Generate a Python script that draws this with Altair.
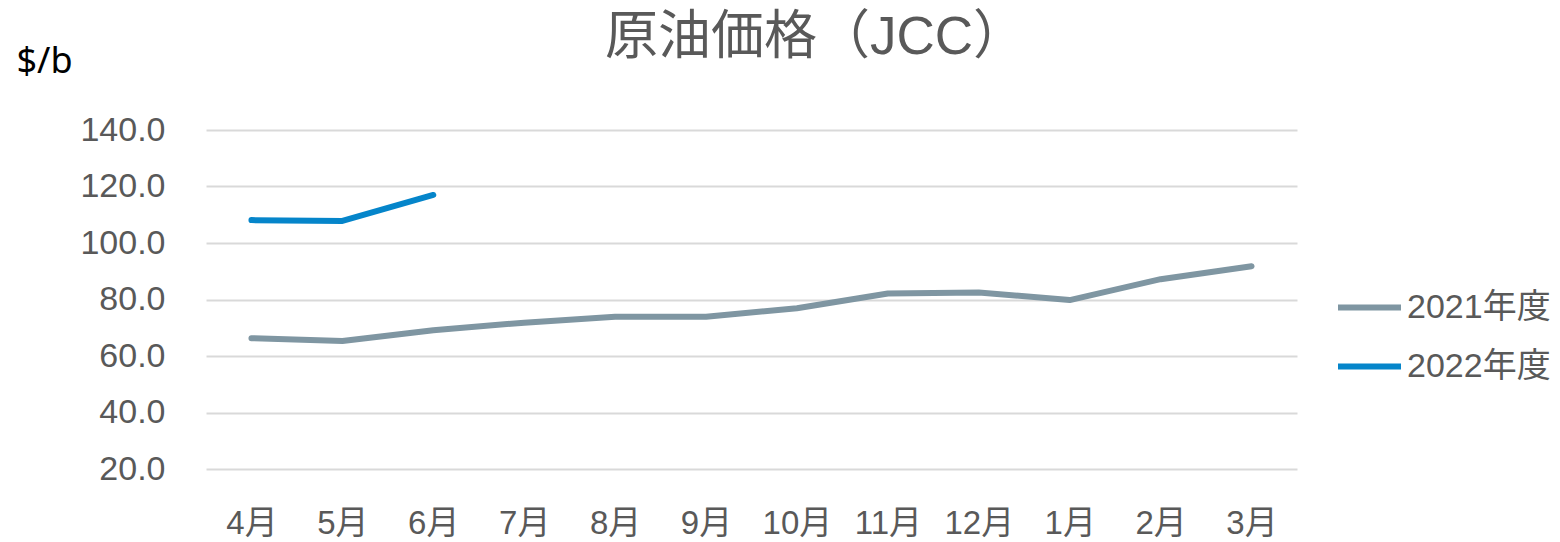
import altair as alt
import pandas as pd

months = ["4月", "5月", "6月", "7月", "8月", "9月", "10月", "11月", "12月", "1月", "2月", "3月"]
fy2021 = [66.3, 65.3, 69.1, 71.8, 73.9, 73.9, 76.9, 82.1, 82.5, 79.8, 87.2, 91.8]
fy2022 = [108.1, 107.8, 117.0]
series = ["2021年度", "2022年度"]
colors = ["#7F96A2", "#0585CA"]
y_ticks = [20, 40, 60, 80, 100, 120, 140]

rows = []
for m, v in zip(months, fy2021):
    rows.append({"month": m, "value": v, "series": series[0]})
for m, v in zip(months, fy2022):
    rows.append({"month": m, "value": v, "series": series[1]})
df = pd.DataFrame(rows)

FONT = "Liberation Sans, Arial, Noto Sans CJK JP"
GRAY = "#595959"

chart = alt.Chart(df).mark_line(strokeWidth=6, strokeCap="round", strokeJoin="round").encode(
    x=alt.X("month:N", sort=months,
            scale=alt.Scale(type="point", padding=0.5),
            axis=alt.Axis(title=None, labelAngle=0, domain=False, ticks=False, grid=False,
                          labelFont=FONT, labelFontSize=33, labelColor=GRAY, labelPadding=38)),
    y=alt.Y("value:Q",
            scale=alt.Scale(domain=[20, 140], nice=False, zero=False),
            axis=alt.Axis(values=y_ticks, format=".1f", domain=False, ticks=False,
                          gridColor="#D9D9D9", gridWidth=2,
                          labelFont=FONT, labelFontSize=34, labelColor=GRAY, labelPadding=41,
                          title="$/b", titleAngle=0, titleAlign="left", titleBaseline="alphabetic",
                          titleX=-190, titleY=-58, titleFont="Noto Sans", titleFontSize=36,
                          titleFontWeight="normal", titleColor="#000000")),
    color=alt.Color("series:N", sort=series,
                    scale=alt.Scale(domain=series, range=colors),
                    legend=alt.Legend(title=None, orient="none", legendX=1129, legendY=143,
                                      symbolType="stroke", symbolSize=3969, symbolStrokeWidth=6,
                                      labelFont=FONT, labelFontSize=34, labelColor=GRAY,
                                      labelOffset=3, rowPadding=7, padding=0)),
).properties(
    width=1091, height=339,
    title=alt.TitleParams("原油価格（JCC）", font=FONT, fontSize=53, fontWeight="normal",
                          color=GRAY, anchor="middle", dx=64, dy=74, baseline="alphabetic", offset=10),
    autosize=alt.AutoSizeParams(type="none"),
    padding={"left": 198, "top": 122, "right": 255, "bottom": 72},
).configure_view(stroke=None)

chart.save("out.html", embed_options={"renderer": "svg", "actions": False})
